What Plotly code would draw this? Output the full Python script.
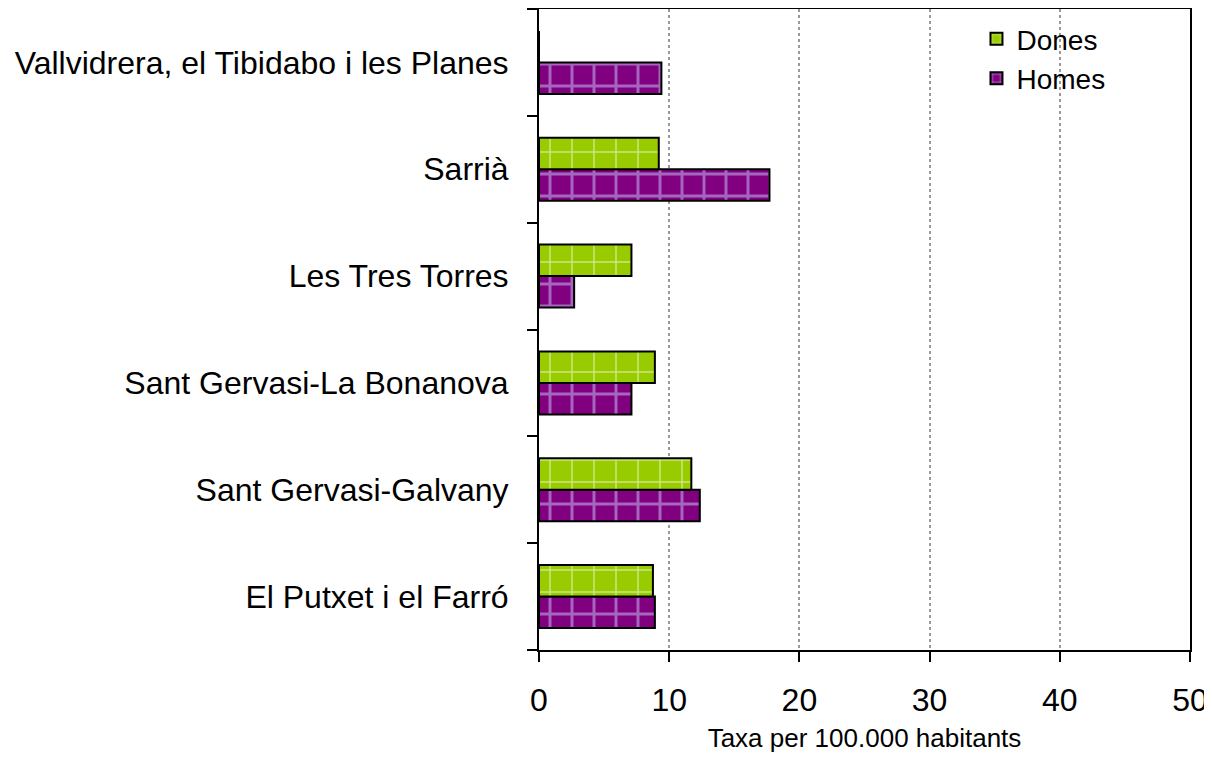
import plotly.graph_objects as go

categories = ["El Putxet i el Farró", "Sant Gervasi-Galvany", "Sant Gervasi-La Bonanova",
              "Les Tres Torres", "Sarrià", "Vallvidrera, el Tibidabo i les Planes"]
dones = [8.75, 11.7, 8.9, 7.1, 9.2, 0]
homes = [8.9, 12.35, 7.1, 2.7, 17.7, 9.4]
x_ticks = [0, 10, 20, 30, 40, 50]

FONT = "Liberation Sans, Arial, sans-serif"

fig = go.Figure()
fig.add_trace(go.Bar(
    y=categories, x=homes, name="Homes", orientation="h",
    marker=dict(color="#800080", line=dict(color="black", width=2),
                pattern=dict(shape="+", fgcolor="#CCCCFF", bgcolor="#800080",
                             size=22, solidity=0.25, fillmode="overlay")),
    legendrank=2,
))
fig.add_trace(go.Bar(
    y=categories, x=dones, name="Dones", orientation="h",
    marker=dict(color="#99CC00", line=dict(color="black", width=2),
                pattern=dict(shape="+", fgcolor="#FFFFFF", bgcolor="#99CC00",
                             size=22, solidity=0.13, fillmode="overlay")),
    legendrank=1,
))

# page body has an 8px margin: size the figure so the page does not overflow
fig.update_layout(
    width=1204, height=745,
    barmode="group", bargap=0.41, bargroupgap=0,
    plot_bgcolor="white", paper_bgcolor="white",
    margin=dict(l=531, r=22, t=1, b=103),
    font=dict(family=FONT, color="black", size=28),
    legend=dict(x=0.672, y=0.992, xanchor="left", yanchor="top",
                bgcolor="rgba(0,0,0,0)", font=dict(size=28, family=FONT),
                itemsizing="constant", tracegroupgap=0),
    showlegend=True,
)
fig.update_xaxes(
    range=[0, 50], tickvals=x_ticks, ticktext=[str(v) for v in x_ticks],
    showgrid=True, gridcolor="#999999", griddash="dot", gridwidth=2,
    showline=True, linecolor="black", linewidth=2, mirror=True,
    ticks="outside", ticklen=10, tickwidth=2, tickcolor="black",
    tickfont=dict(size=32, family=FONT), ticklabelstandoff=11,
    ticklabeloverflow="allow", automargin=False,
    title=dict(text="Taxa per 100.000 habitants", font=dict(size=26, family=FONT), standoff=22),
    zeroline=False,
)
fig.update_yaxes(
    categoryorder="array", categoryarray=categories,
    showgrid=False, showline=True, linecolor="black", linewidth=2, mirror=True,
    ticks="outside", ticklen=10, tickwidth=2, tickcolor="black", tickson="boundaries",
    tickfont=dict(size=32, family=FONT), ticklabelstandoff=22,
)

fig.write_html("out.html")
